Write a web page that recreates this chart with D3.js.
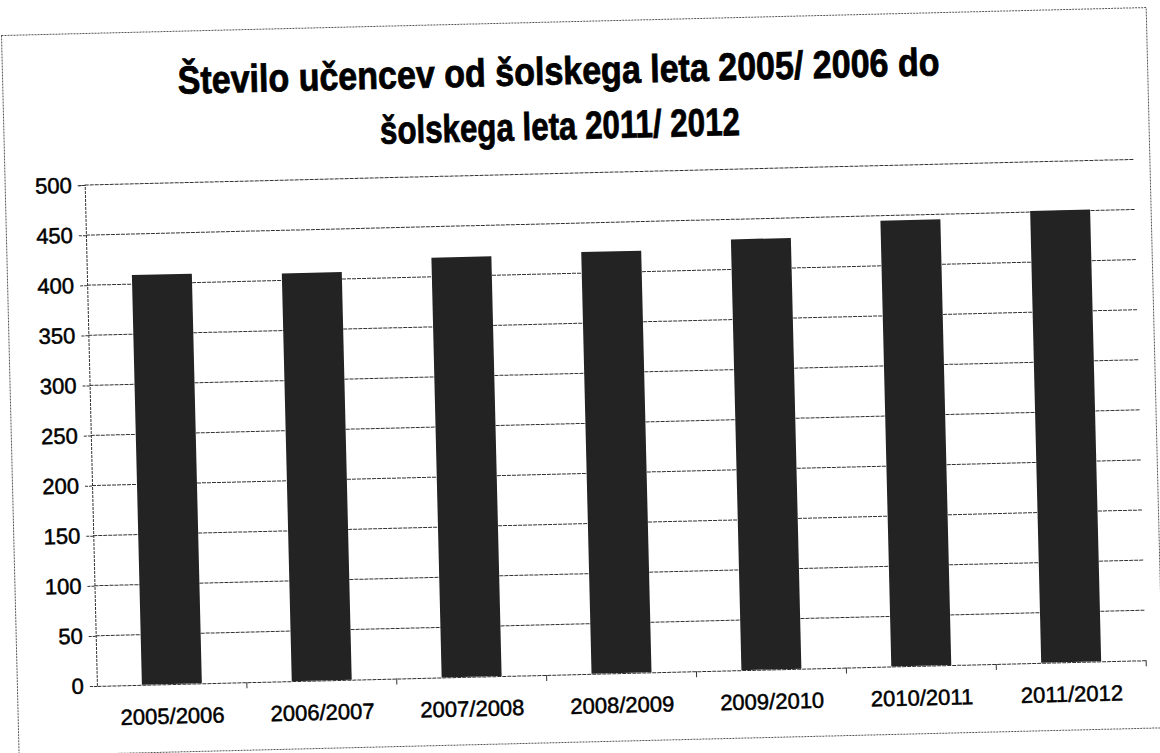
<!DOCTYPE html>
<html>
<head>
<meta charset="utf-8">
<script src="https://cdn.jsdelivr.net/npm/d3@7"></script>
<style>
  html, body { margin: 0; padding: 0; background: #fff; }
  svg { display: block; }
</style>
</head>
<body>
<svg id="chart" width="1160" height="753"></svg>
<script>
const categories = ["2005/2006", "2006/2007", "2007/2008", "2008/2009", "2009/2010", "2010/2011", "2011/2012"];
const values = [409, 407, 419, 421, 430, 445, 451];
const yTicks = [0, 50, 100, 150, 200, 250, 300, 350, 400, 450, 500];
const titleLines = ["Število učencev od šolskega leta 2005/ 2006 do", "šolskega leta 2011/ 2012"];

const svg = d3.select("#chart");
const g = svg.append("g").attr("transform", "rotate(-1.4, 580, 376)");

// chart border
g.append("rect")
  .attr("x", 10).attr("y", 21.5).attr("width", 1145).attr("height", 720.5)
  .attr("fill", "none").attr("stroke", "#555").attr("stroke-width", 1)
  .attr("stroke-dasharray", "2,1");

const plot = { left: 89.5, right: 1139, top: 173, bottom: 674 };

const x = d3.scaleBand().domain(categories).range([plot.left, plot.right]).paddingInner(0.6).paddingOuter(0.3);
const xb = d3.scaleBand().domain(categories).range([plot.left, plot.right]);
const y = d3.scaleLinear().domain([0, 500]).range([plot.bottom, plot.top]);

// title
const title = g.append("g").attr("font-family", "'Liberation Sans', Arial, sans-serif").attr("font-weight", "bold")
  .attr("fill", "#000").attr("stroke", "#000").attr("stroke-width", 0.8);
title.append("text").attr("x", 566).attr("y", 84).attr("text-anchor", "middle")
  .attr("font-size", 39).attr("textLength", 762).attr("lengthAdjust", "spacingAndGlyphs").text(titleLines[0]);
title.append("text").attr("x", 566).attr("y", 139).attr("text-anchor", "middle")
  .attr("font-size", 39).attr("textLength", 360).attr("lengthAdjust", "spacingAndGlyphs").text(titleLines[1]);

// gridlines
g.append("g").selectAll("line").data(yTicks.filter(d => d > 0)).join("line")
  .attr("x1", plot.left).attr("x2", plot.right)
  .attr("y1", d => y(d)).attr("y2", d => y(d))
  .attr("stroke", "#333").attr("stroke-width", 1).attr("stroke-dasharray", "4,1");

// bars
g.append("g").selectAll("rect").data(values).join("rect")
  .attr("x", (d, i) => x(categories[i]))
  .attr("width", x.bandwidth())
  .attr("y", d => y(d))
  .attr("height", d => y(0) - y(d))
  .attr("fill", "#232323");

// y axis
const yAxis = g.append("g").attr("transform", `translate(${plot.left},0)`)
  .call(d3.axisLeft(y).tickValues(yTicks).tickSize(7).tickPadding(6));
yAxis.selectAll("path, line").attr("stroke", "#333").attr("stroke-dasharray", "3,1");
yAxis.selectAll("text").attr("font-family", "'Liberation Sans', Arial, sans-serif").attr("font-size", 22)
  .attr("fill", "#000").attr("stroke", "#000").attr("stroke-width", 0.5);

// x axis
const xAxis = g.append("g").attr("transform", `translate(0,${plot.bottom})`)
  .call(d3.axisBottom(xb).tickSize(0).tickPadding(24).tickSizeOuter(0));
xAxis.select("path").attr("stroke", "#333").attr("stroke-dasharray", "4,1");
xAxis.selectAll("text").attr("font-family", "'Liberation Sans', Arial, sans-serif").attr("font-size", 22)
  .attr("fill", "#000").attr("stroke", "#000").attr("stroke-width", 0.5);
// tick marks between categories
g.append("g").selectAll("line").data(categories.slice(1).concat(["end"])).join("line")
  .attr("x1", (d, i) => i < categories.length - 1 ? xb(d) : plot.right)
  .attr("x2", (d, i) => i < categories.length - 1 ? xb(d) : plot.right)
  .attr("y1", plot.bottom).attr("y2", plot.bottom + 6)
  .attr("stroke", "#333");
</script>
</body>
</html>
